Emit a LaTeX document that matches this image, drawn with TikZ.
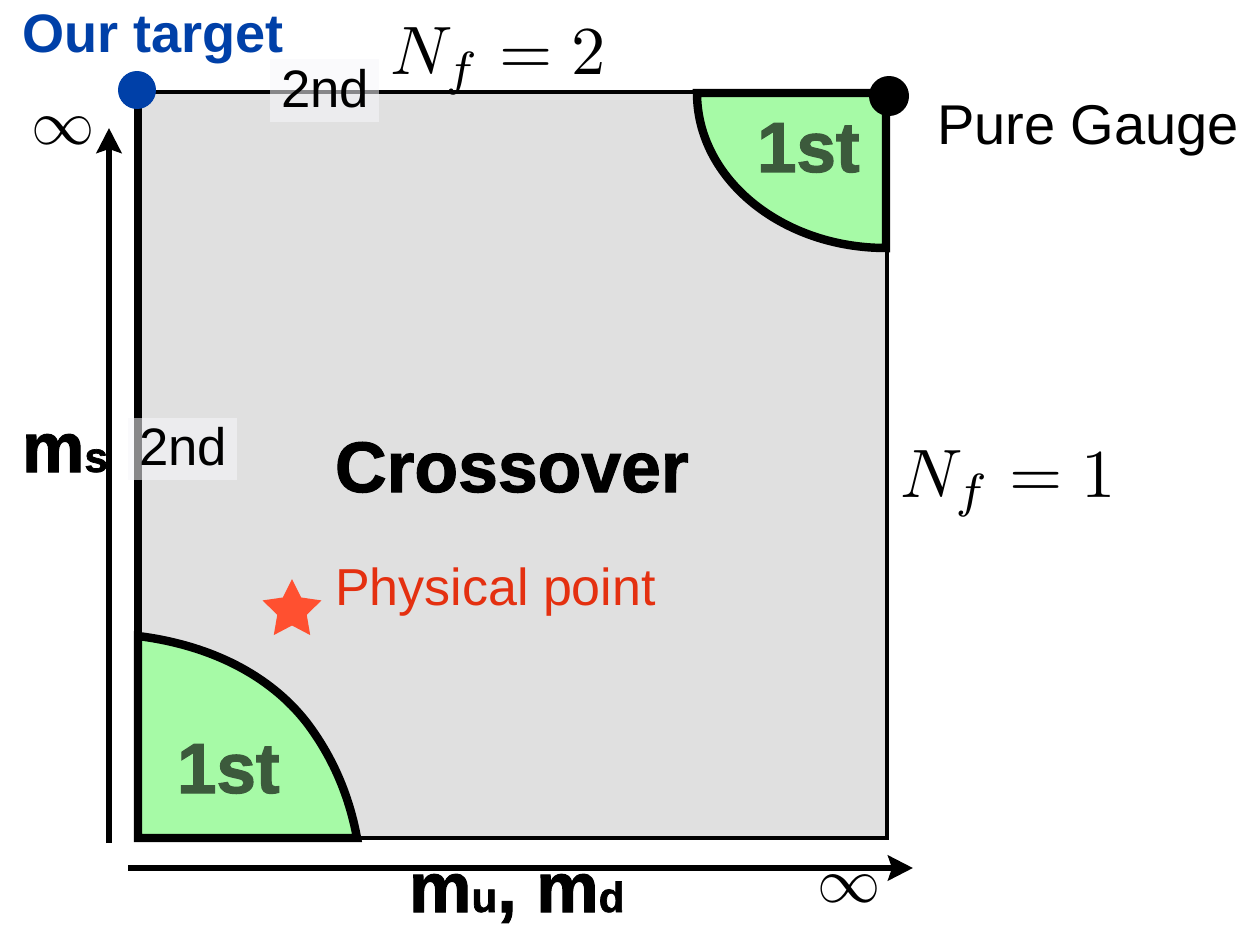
\documentclass[tikz,border=0pt]{standalone}
\usepackage[no-math]{fontspec}
\setmainfont{Liberation Sans}
\newfontfamily\heavyfont[FakeBold=1.6]{Liberation Sans Bold}
\usetikzlibrary{shapes.geometric,arrows.meta}
\definecolor{bgray}{RGB}{224,224,224}
\definecolor{lgreen}{RGB}{166,250,166}
\definecolor{dgreen}{RGB}{60,90,60}
\definecolor{tblue}{RGB}{0,64,168}
\definecolor{starred}{RGB}{255,80,48}
\definecolor{txtred}{RGB}{228,48,16}
\definecolor{boxwhite}{RGB}{246,246,250}
\begin{document}
\begin{tikzpicture}[x=0.02cm,y=-0.02cm,
  lab/.style={inner sep=0pt, outer sep=0pt, anchor=base west},
  center lab/.style={inner sep=0pt, outer sep=0pt, anchor=center},
  axisline/.style={line width=3.4pt, -{Stealth[length=0.5cm,width=0.5cm,inset=0.08cm]}},
  region/.style={fill=lgreen, draw=black, line width=4.8pt},
  lbox/.style={fill=boxwhite, fill opacity=0.55, draw=none},
  dot/.style={circle, inner sep=0pt, outer sep=0pt}]
% canvas
\path[use as bounding box, fill=white] (0,0) rectangle (1255,926);
% main square
\fill[bgray] (138,92) rectangle (887,838);
\coordinate (tl) at (138,92);
\coordinate (tr) at (887,92);
\coordinate (br) at (887,838);
\coordinate (bl) at (138,838);
\draw[line width=2.2pt] (tl) -- (tr);
\draw[line width=2.8pt, line cap=rect] (tr) -- (br) -- (bl);
\draw[line width=5.1pt] (bl) -- (tl);
% first-order regions
\draw[region] (697,93) -- (886,93) -- (886,248)
  .. controls (781.6,248) and (697,178.6) .. (697,93) -- cycle;
\draw[region] (138,636) .. controls (210,645) and (270,675) .. (307,723)
  .. controls (335,760) and (350,800) .. (357,838) -- (138,838) -- cycle;
% axes
\coordinate (ya0) at (109,843);
\coordinate (ya1) at (109,128);
\coordinate (xa0) at (128,868);
\coordinate (xa1) at (913,868);
\draw[axisline] (ya0) -- (ya1);
\draw[axisline] (xa0) -- (xa1);
% dots
\node[dot, fill=tblue, minimum size=0.76cm] (target) at (137,90) {};
\node[dot, fill=black, minimum size=0.8cm] (pure) at (889,96) {};
% second-order label boxes
\fill[lbox] (270,59) rectangle (379,122);
\fill[lbox] (128,418) rectangle (237,480);
\node[lab] (nd2top) at (281,108) {\fontsize{30}{34}\selectfont 2nd};
\node[lab] (nd2left) at (139,465) {\fontsize{30}{34}\selectfont 2nd};
% texts
\node[lab, text=tblue] (ourtarget) at (22,53) {\fontsize{30.8}{36}\selectfont\bfseries Our target};
\node[lab] (nf2) at (390,75) {\scalebox{3.9}{$N_f=2$}};
\node[lab] (nf1) at (900,497) {\scalebox{3.9}{$N_f=1$}};
\node[lab] (puregauge) at (937,145) {\fontsize{31.9}{36}\selectfont Pure Gauge};
\node[lab, text=dgreen] (first1) at (757,172) {\fontsize{40.4}{46}\selectfont\heavyfont 1st};
\node[lab, text=dgreen] (first2) at (177,793) {\fontsize{40.4}{46}\selectfont\heavyfont 1st};
\node[lab] (crossover) at (335,492) {\fontsize{40.7}{46}\selectfont\heavyfont Crossover};
\node[center lab] (infy) at (63,131) {\scalebox{3.6}{$\infty$}};
\node[center lab] (infx) at (849,889) {\scalebox{3.6}{$\infty$}};
\node[lab] (ms) at (22,472) {\heavyfont{\fontsize{40}{46}\selectfont m}{\fontsize{24}{28}\selectfont s}};
\node[lab] (mumd) at (409,912) {\heavyfont{\fontsize{40}{46}\selectfont m}{\fontsize{24}{28}\selectfont u}{\fontsize{40}{46}\selectfont, m}{\fontsize{24}{28}\selectfont d}};
% physical point
\node[star, star points=5, star point ratio=2, fill=starred, minimum size=1.24cm, inner sep=0pt] (phys) at (292,610) {};
\node[lab, text=txtred] (physlabel) at (335,605) {\fontsize{29.6}{34}\selectfont Physical point};
\end{tikzpicture}
\end{document}
